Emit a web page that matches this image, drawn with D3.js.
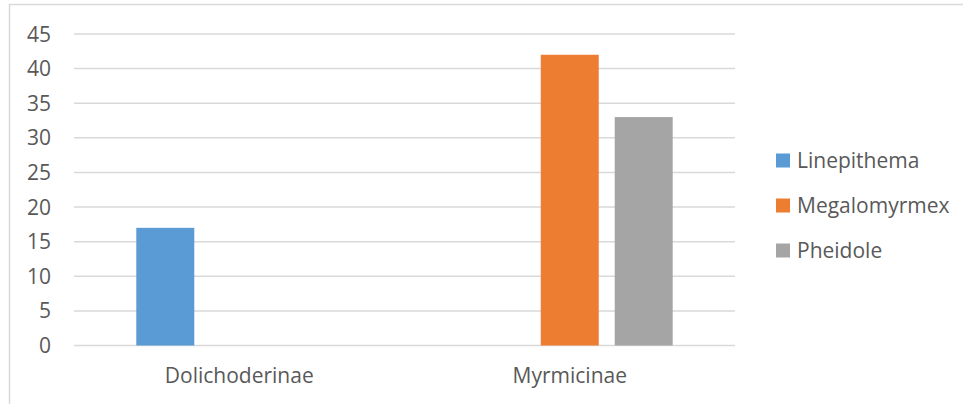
<!DOCTYPE html>
<html>
<head>
<meta charset="utf-8">
<script src="https://cdn.jsdelivr.net/npm/d3@7"></script>
<style>
  body { margin: 0; background: #fff; }
  svg text { font-family: "Open Sans", sans-serif; fill: #595959; }
</style>
</head>
<body>
<svg class="chart" width="963" height="404"></svg>
<script>
var categories = ['Dolichoderinae', 'Myrmicinae'];
var seriesNames = ['Linepithema', 'Megalomyrmex', 'Pheidole'];
var seriesColors = ['#5b9bd5', '#ed7d31', '#a5a5a5'];
// one row per series, one value per category (missing = no bar)
var linepithema = [17, null];
var megalomyrmex = [null, 42];
var pheidole = [null, 33];
var yTicks = [0, 5, 10, 15, 20, 25, 30, 35, 40, 45];

var seriesValues = [linepithema, megalomyrmex, pheidole];

var config = {
    width: 963,
    height: 404,
    plot: {left: 74, right: 735, top: 34, bottom: 345.5},
    fontSize: 21
};

var chart = d3.select('.chart');

// outer frame, runs off the right and bottom of the picture
chart.append('rect')
    .attr('x', 9.5).attr('y', 4.5)
    .attr('width', 1000).attr('height', 1000)
    .attr('fill', 'none')
    .attr('stroke', '#d9d9d9')
    .attr('stroke-width', 1.5);

var x0 = d3.scaleBand()
    .domain(categories)
    .range([config.plot.left, config.plot.right]);

var groupWidth = x0.bandwidth() * 0.623;
var x1 = d3.scaleBand()
    .domain(seriesNames)
    .range([-groupWidth / 2, groupWidth / 2])
    .paddingInner(0.216);

var y = d3.scaleLinear()
    .domain([0, 45])
    .range([config.plot.bottom, config.plot.top]);

// gridlines
chart.append('g').selectAll('line')
    .data(yTicks)
    .enter().append('line')
    .attr('x1', config.plot.left)
    .attr('x2', config.plot.right)
    .attr('y1', function(d){ return y(d); })
    .attr('y2', function(d){ return y(d); })
    .attr('stroke', '#d9d9d9')
    .attr('stroke-width', 1.5);

// y labels
chart.append('g').selectAll('text')
    .data(yTicks)
    .enter().append('text')
    .attr('x', 51)
    .attr('y', function(d){ return y(d) + 7.5; })
    .attr('text-anchor', 'end')
    .style('font-size', config.fontSize + 'px')
    .text(function(d){ return d; });

// bars
var bars = [];
seriesValues.forEach(function(vals, s){
    vals.forEach(function(v, c){
        if (v != null) bars.push({series: seriesNames[s], color: seriesColors[s], cat: categories[c], value: v});
    });
});

chart.append('g').selectAll('rect')
    .data(bars)
    .enter().append('rect')
    .attr('x', function(d){ return x0(d.cat) + x0.bandwidth() / 2 + x1(d.series); })
    .attr('width', x1.bandwidth())
    .attr('y', function(d){ return y(d.value); })
    .attr('height', function(d){ return y(0) - y(d.value); })
    .attr('fill', function(d){ return d.color; });

// x labels
chart.append('g').selectAll('text')
    .data(categories)
    .enter().append('text')
    .attr('x', function(d){ return x0(d) + x0.bandwidth() / 2; })
    .attr('y', 383)
    .attr('text-anchor', 'middle')
    .style('font-size', config.fontSize + 'px')
    .text(function(d){ return d; });

// legend
var legend = chart.append('g').selectAll('g')
    .data(seriesNames)
    .enter().append('g')
    .attr('transform', function(d, i){ return 'translate(776,' + (160.5 + i * 45) + ')'; });

legend.append('rect')
    .attr('x', 0).attr('y', -7)
    .attr('width', 14).attr('height', 14)
    .attr('fill', function(d, i){ return seriesColors[i]; });

legend.append('text')
    .attr('x', 21)
    .attr('y', 7.5)
    .style('font-size', config.fontSize + 'px')
    .text(function(d){ return d; });
</script>
</body>
</html>
